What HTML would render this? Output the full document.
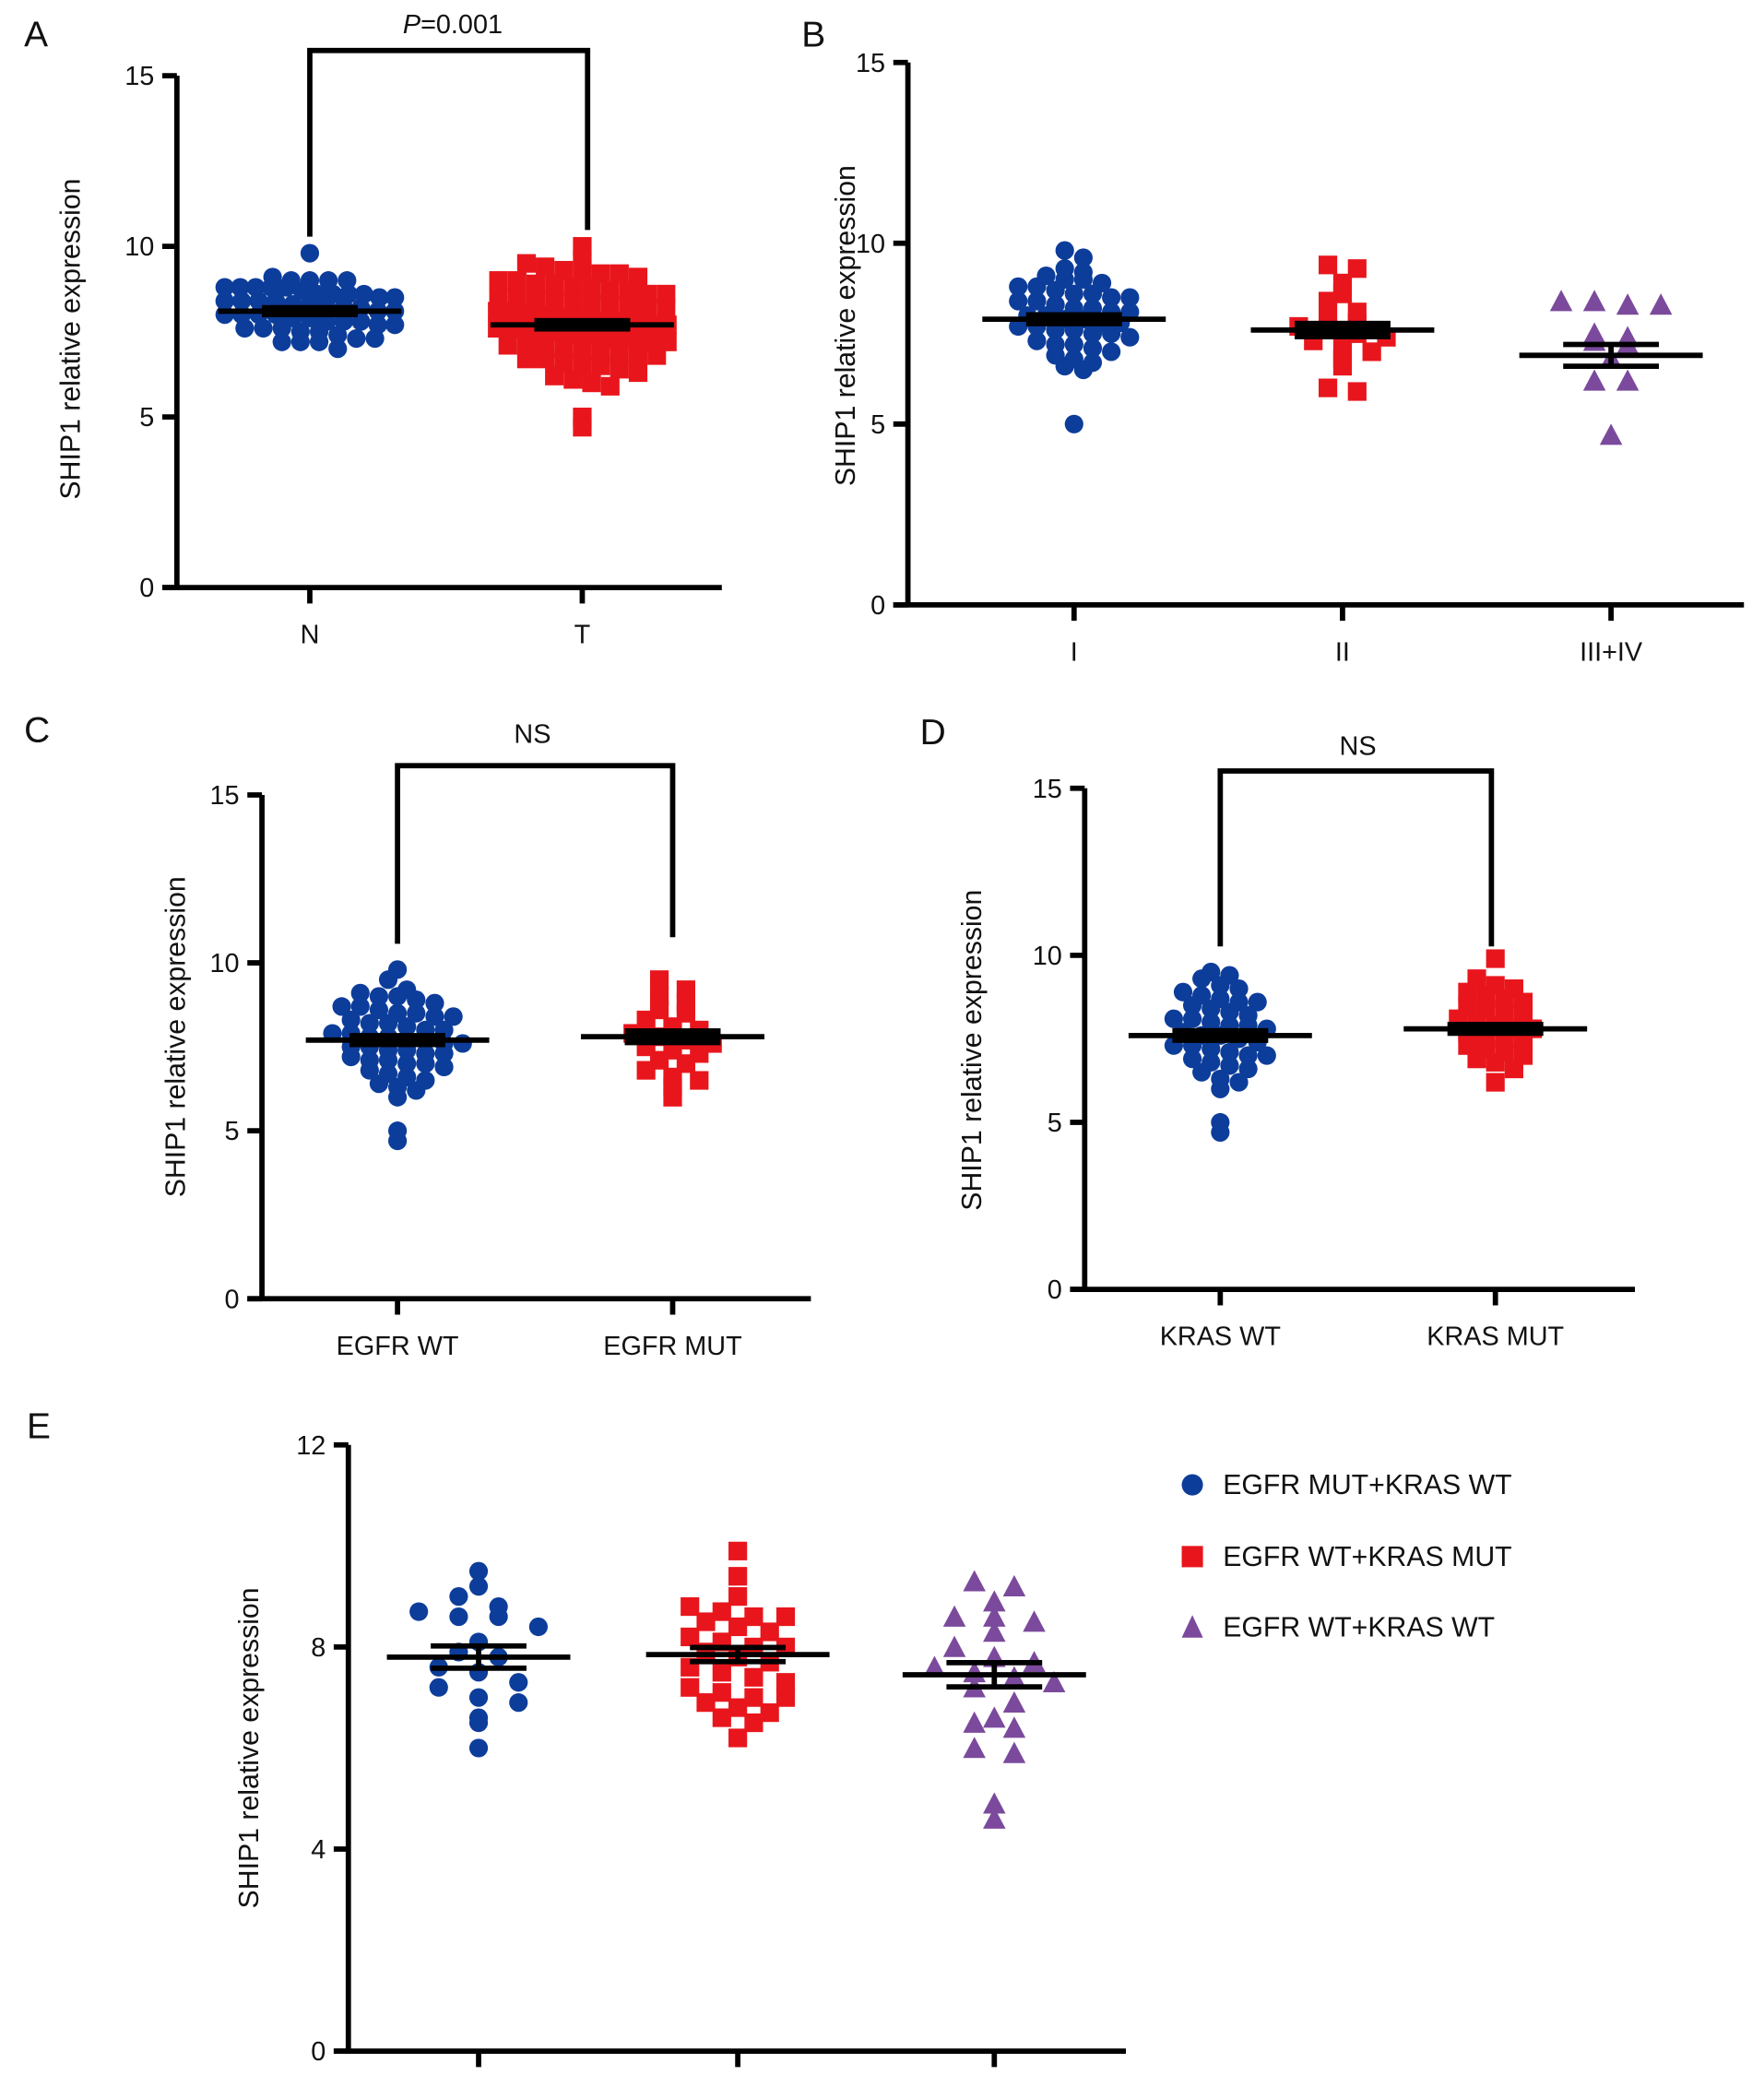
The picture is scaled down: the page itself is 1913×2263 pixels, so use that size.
<!DOCTYPE html>
<html><head><meta charset="utf-8"><style>
html,body{margin:0;padding:0;background:#fff;}
svg{display:block;}
text{font-family:"Liberation Sans",Arial,sans-serif;fill:#111;}
</style></head><body>
<svg id="fig" width="1913" height="2263" viewBox="0 0 1327 1570" xmlns="http://www.w3.org/2000/svg"></svg>
<script>
// ---- data ----
const panelLetters = ['A','B','C','D','E'];
const yTicks15 = [0,5,10,15];
const yTicks12 = [0,4,8,12];
const catsA = ['N','T'];
const catsB = ['I','II','III+IV'];
const catsC = ['EGFR WT','EGFR MUT'];
const catsD = ['KRAS WT','KRAS MUT'];
const legendE = ['EGFR MUT+KRAS WT','EGFR WT+KRAS MUT','EGFR WT+KRAS WT'];

const A_N = [9.8,9.1,9.0,9.0,9.0,9.0,8.8,8.8,8.8,8.8,8.8,8.7,8.6,8.6,8.6,8.6,8.5,8.5,8.4,8.4,8.4,8.4,8.3,8.3,8.2,8.2,8.2,8.1,8.1,8.0,8.0,8.0,8.0,7.9,7.9,7.8,7.8,7.8,7.7,7.7,7.6,7.6,7.6,7.5,7.5,7.4,7.3,7.3,7.2,7.2,7.2,7.0];
const A_T = [10.0,9.6,9.5,9.4,9.3,9.3,9.2,9.2,9.1,9.0,9.0,8.9,8.9,8.8,8.8,8.7,8.7,8.6,8.6,8.5,8.5,8.5,8.4,8.4,8.3,8.3,8.2,8.2,8.2,8.1,8.1,8.0,8.0,8.0,7.9,7.9,7.9,7.8,7.8,7.8,7.7,7.7,7.7,7.6,7.6,7.6,7.5,7.5,7.5,7.4,7.4,7.4,7.3,7.3,7.3,7.2,7.2,7.2,7.1,7.1,7.0,7.0,7.0,6.9,6.9,6.8,6.8,6.7,6.7,6.6,6.5,6.5,6.4,6.3,6.2,6.1,6.0,5.9,5.0,4.7];
const A_mean = [8.1,7.7];
const A_sem = [0.1,0.12];

const B_I = [9.8,9.6,9.3,9.2,9.1,9.0,9.0,8.9,8.8,8.8,8.7,8.6,8.6,8.5,8.5,8.4,8.4,8.3,8.2,8.2,8.1,8.1,8.0,8.0,7.9,7.9,7.8,7.8,7.7,7.7,7.6,7.6,7.5,7.5,7.4,7.3,7.2,7.2,7.1,7.0,6.9,6.8,6.7,6.6,6.5,5.0];
const B_II = [9.4,9.3,8.9,8.6,8.4,8.1,7.9,7.8,7.7,7.6,7.5,7.4,7.3,7.1,7.0,6.8,6.6,6.0,5.9];
const B_III = [8.4,8.4,8.3,8.3,7.5,7.4,7.3,7.2,6.8,6.2,6.2,4.7];
const B_mean = [7.9,7.6,6.9];
const B_sem = [0.12,0.18,0.3];

const C_WT = [9.8,9.5,9.2,9.1,9.0,9.0,8.9,8.8,8.7,8.7,8.6,8.5,8.5,8.4,8.4,8.3,8.2,8.2,8.1,8.0,8.0,7.9,7.9,7.8,7.8,7.7,7.7,7.6,7.6,7.5,7.5,7.4,7.4,7.3,7.3,7.2,7.1,7.1,7.0,7.0,6.9,6.8,6.7,6.6,6.5,6.4,6.3,6.2,6.0,5.0,4.7];
const C_MUT = [9.5,9.2,9.0,8.8,8.6,8.5,8.3,8.1,8.0,7.9,7.8,7.7,7.6,7.5,7.4,7.3,7.1,7.0,6.8,6.6,6.5,6.3,6.0];
const C_mean = [7.7,7.8];
const C_sem = [0.13,0.17];

const D_WT = [9.5,9.4,9.3,9.1,9.0,8.9,8.8,8.7,8.6,8.6,8.5,8.4,8.3,8.2,8.1,8.1,8.0,7.9,7.9,7.8,7.7,7.6,7.6,7.5,7.4,7.3,7.3,7.2,7.1,7.0,7.0,6.9,6.8,6.7,6.6,6.5,6.3,6.2,6.0,5.0,4.7];
const D_MUT = [9.9,9.3,9.1,9.0,8.9,8.8,8.7,8.6,8.5,8.4,8.3,8.2,8.1,8.0,7.9,7.8,7.8,7.7,7.6,7.5,7.4,7.3,7.2,7.1,7.0,6.9,6.8,6.6,6.2];
const D_mean = [7.6,7.8];
const D_sem = [0.14,0.13];

const E_1 = [9.5,9.2,9.0,8.8,8.7,8.6,8.6,8.4,8.1,7.9,7.8,7.6,7.5,7.3,7.2,7.0,6.9,6.6,6.5,6.0];
const E_2 = [9.9,9.4,9.0,8.8,8.7,8.6,8.6,8.5,8.4,8.3,8.2,8.1,8.0,8.0,7.9,7.8,7.7,7.6,7.5,7.4,7.3,7.2,7.1,7.0,7.0,6.9,6.8,6.7,6.6,6.5,6.2];
const E_3 = [9.3,9.2,8.9,8.6,8.6,8.5,8.3,8.0,7.8,7.7,7.6,7.5,7.4,7.3,7.2,6.9,6.6,6.5,6.4,6.0,5.9,4.9,4.6];
const E_mean = [7.8,7.85,7.45];
const E_sem = [0.22,0.14,0.24];

// ---- drawing ----
const NS='http://www.w3.org/2000/svg';
const svg=document.getElementById('fig');
const BLUE='#0d3d9a', RED='#e8161c', PURPLE='#7b4a9c';
function el(tag,attrs,parent){const e=document.createElementNS(NS,tag);for(const k in attrs)e.setAttribute(k,attrs[k]);(parent||svg).appendChild(e);return e;}
function txt(s,x,y,size,anchor,parent,extra){const t=el('text',Object.assign({x:x,y:y,'font-size':size,'text-anchor':anchor||'middle'},extra||{}),parent);t.textContent=s;return t;}

function panel(cfg){
  const g=el('g',{});
  
  
  const ys=v=>cfg.y0-(v/cfg.ymax)*(cfg.y0-cfg.ytop);
  const lt=txt(cfg.letter,cfg.lx,cfg.ly,27,'start',g);
  
  
  const ya=el('line',{x1:cfg.ax,y1:cfg.ytop,x2:cfg.ax,y2:cfg.y0+1.5,stroke:'#000','stroke-width':4},g);
  
  
  const xa=el('line',{x1:cfg.ax-11,y1:cfg.y0,x2:cfg.xend,y2:cfg.y0,stroke:'#000','stroke-width':4},g);
  
  
  cfg.ticks.forEach(t=>{
    const y=ys(t);
    el('line',{x1:cfg.ax-11,y1:y,x2:cfg.ax,y2:y,stroke:'#000','stroke-width':4},g);
    const tl=txt(String(t),cfg.ax-17,y+7,20,'end',g);
    
    
  });
  const yl=txt('SHIP1 relative expression',0,0,21,'middle',g,{transform:`translate(${cfg.ylx},${cfg.yly}) rotate(-90)`});
  
  
  cfg.groups.forEach((gr,i)=>{
    const cx=cfg.cx[i];
    el('line',{x1:cx,y1:cfg.y0,x2:cx,y2:cfg.y0+12,stroke:'#000','stroke-width':4},g);
    if(cfg.cats){const cl=txt(cfg.cats[i],cx,cfg.y0+42,20,'middle',g);
      
      }
    const d=gr.shape==='tri'?15:14, rowH=gr.rowH||10, maxW=gr.maxW||128;
    // bin into rows
    const rows={};
    gr.vals.forEach(v=>{const y=ys(v);const b=Math.round(y/rowH);(rows[b]=rows[b]||[]).push(y);});
    Object.keys(rows).forEach(b=>{
      const ysArr=rows[b], n=ysArr.length;
      const s=n>1?Math.min(gr.sp||d, maxW/(n-1)):0;
      ysArr.forEach((y,j)=>{
        const x=cx+(j-(n-1)/2)*s;
        let m;
        if(gr.shape==='circle')m=el('circle',{cx:x,cy:y,r:d/2,fill:gr.color},g);
        else if(gr.shape==='square')m=el('rect',{x:x-d/2,y:y-d/2,width:d,height:d,fill:gr.color},g);
        else m=el('polygon',{points:`${x},${y-d/2-1} ${x-d/2-1},${y+d/2} ${x+d/2+1},${y+d/2}`,fill:gr.color},g);
        
        
      });
    });
    const my=ys(cfg.mean[i]), hi=ys(cfg.mean[i]+cfg.sem[i]), lo=ys(cfg.mean[i]-cfg.sem[i]);
    const ml=el('line',{x1:cx-69,y1:my,x2:cx+69,y2:my,stroke:'#000','stroke-width':4},g);
    
    
    const sg=el('g',{},g);
    
    
    el('line',{x1:cx,y1:hi,x2:cx,y2:lo,stroke:'#000','stroke-width':4},sg);
    el('line',{x1:cx-36,y1:hi,x2:cx+36,y2:hi,stroke:'#000','stroke-width':4},sg);
    el('line',{x1:cx-36,y1:lo,x2:cx+36,y2:lo,stroke:'#000','stroke-width':4},sg);
    if(Math.abs(lo-hi)<10){el('rect',{x:cx-36,y:hi-2,width:72,height:lo-hi+4,fill:'#000'},sg);}
  });
  if(cfg.bracket){
    const b=cfg.bracket;
    const br=el('polyline',{points:`${cfg.cx[0]},${b.l} ${cfg.cx[0]},${b.top} ${cfg.cx[1]+b.dx},${b.top} ${cfg.cx[1]+b.dx},${b.r}`,fill:'none',stroke:'#000','stroke-width':4},g);
    
    
    const st=el('text',{x:(cfg.cx[0]+cfg.cx[1])/2+b.tdx,y:b.ty,'font-size':20,'text-anchor':'middle'},g);
    
    
    if(b.label==='P'){const i=el('tspan',{'font-style':'italic'},st);i.textContent='P';const r=el('tspan',{},st);r.textContent='=0.001';}
    else st.textContent=b.label;
  }
}

panel({letter:panelLetters[0],lx:18,ly:35,ax:133,ytop:57,y0:442,ymax:15,xend:543,ticks:yTicks15,ylx:60,yly:255,cats:catsA,cx:[233,438],
  groups:[{vals:A_N,shape:'circle',color:BLUE},{vals:A_T,shape:'square',color:RED,rowH:12}],mean:A_mean,sem:A_sem,
  bracket:{top:38,l:178,r:173,dx:4,label:'P',ty:25,tdx:5}});
panel({letter:panelLetters[1],lx:603,ly:35,ax:683,ytop:47,y0:455,ymax:15,xend:1312,ticks:yTicks15,ylx:643,yly:245,cats:catsB,cx:[808,1010,1212],
  groups:[{vals:B_I,shape:'circle',color:BLUE},{vals:B_II,shape:'square',color:RED,sp:22},{vals:B_III,shape:'tri',color:PURPLE,sp:25}],mean:B_mean,sem:B_sem});
panel({letter:panelLetters[2],lx:18,ly:558,ax:197,ytop:598,y0:977,ymax:15,xend:610,ticks:yTicks15,ylx:139,yly:780,cats:catsC,cx:[299,506],
  groups:[{vals:C_WT,shape:'circle',color:BLUE},{vals:C_MUT,shape:'square',color:RED,sp:20}],mean:C_mean,sem:C_sem,
  bracket:{top:576,l:710,r:705,dx:0,label:'NS',ty:559,tdx:-2}});
panel({letter:panelLetters[3],lx:692,ly:560,ax:816,ytop:593,y0:970,ymax:15,xend:1230,ticks:yTicks15,ylx:738,yly:790,cats:catsD,cx:[918,1125],
  groups:[{vals:D_WT,shape:'circle',color:BLUE},{vals:D_MUT,shape:'square',color:RED}],mean:D_mean,sem:D_sem,
  bracket:{top:580,l:712,r:712,dx:-3,label:'NS',ty:568,tdx:0}});
panel({letter:panelLetters[4],lx:20,ly:1082,ax:262,ytop:1087,y0:1543,ymax:12,xend:847,ticks:yTicks12,ylx:194,yly:1315,cats:null,cx:[360,555,748],
  groups:[{vals:E_1,shape:'circle',color:BLUE,rowH:14,sp:30},{vals:E_2,shape:'square',color:RED,rowH:12,sp:24},{vals:E_3,shape:'tri',color:PURPLE,rowH:14,sp:30}],mean:E_mean,sem:E_sem});

const lg=el('g',{});


const legColors=[BLUE,RED,PURPLE], legY=[1117,1171,1224];
legendE.forEach((s,i)=>{
  const e=el('g',{},lg);
  
  
  const x=897,y=legY[i];
  if(i===0)el('circle',{cx:x,cy:y,r:8,fill:legColors[i]},e);
  else if(i===1)el('rect',{x:x-8,y:y-8,width:16,height:16,fill:legColors[i]},e);
  else el('polygon',{points:`${x},${y-9} ${x-8},${y+8} ${x+8},${y+8}`,fill:legColors[i]},e);
  txt(s,920,y+7,21,'start',e);
});
</script>
</body></html>
